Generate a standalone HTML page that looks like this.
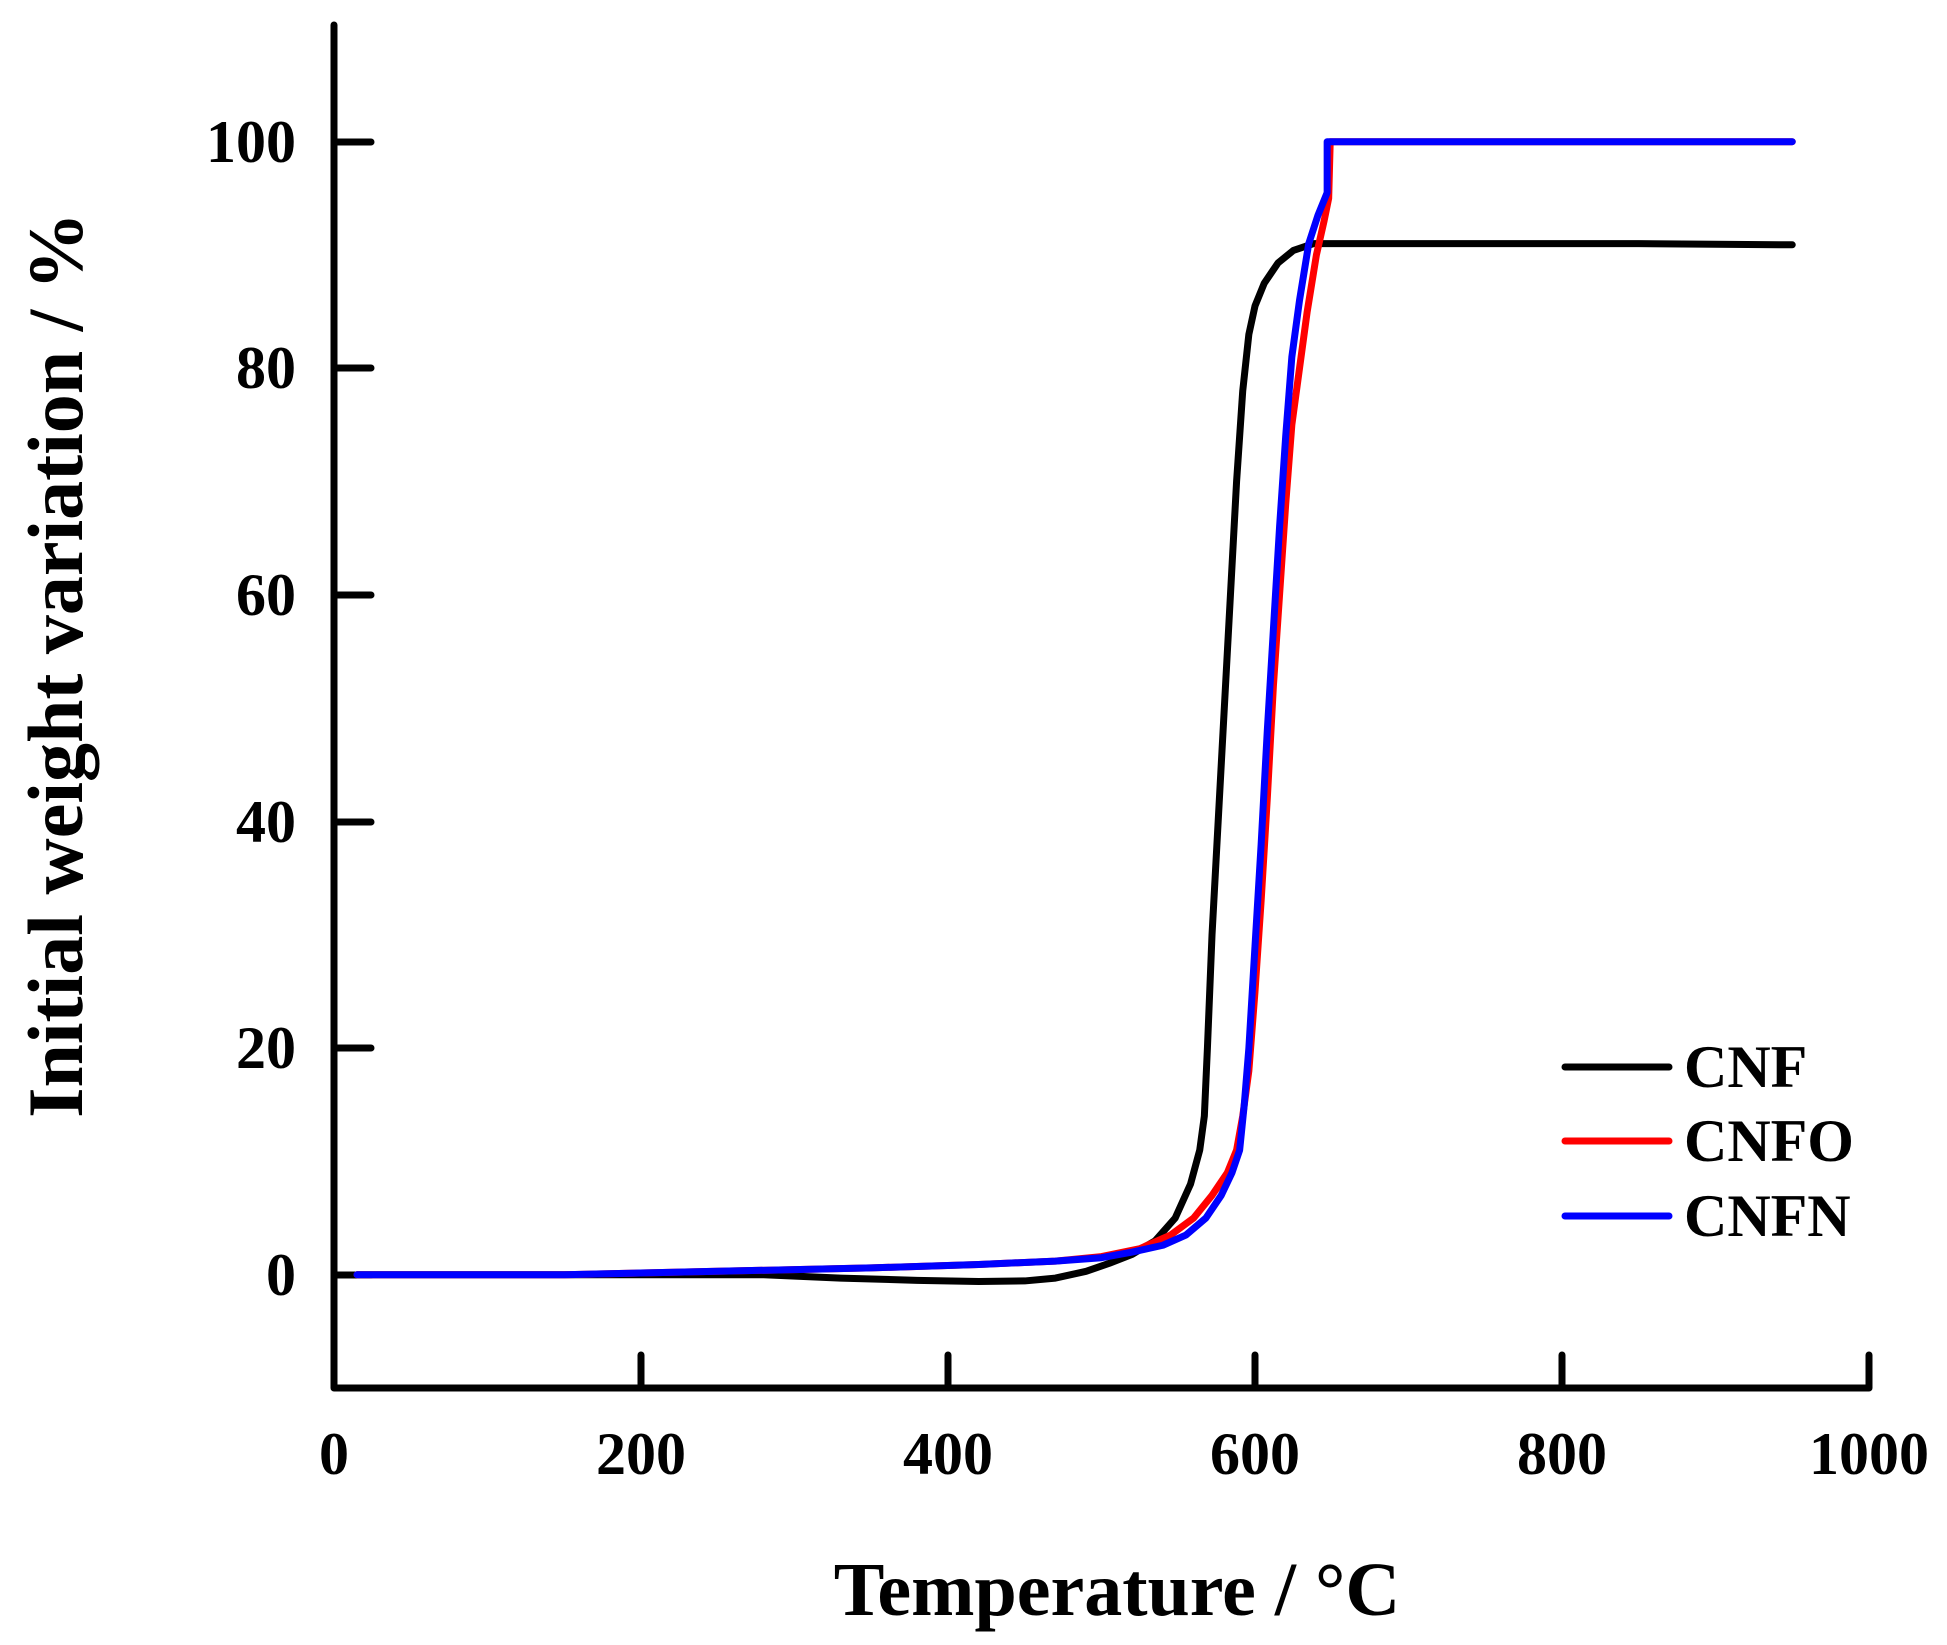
<!DOCTYPE html>
<html><head><meta charset="utf-8"><style>
html,body{margin:0;padding:0;background:#fff;}
svg{display:block;}
text{font-family:"Liberation Serif",serif;font-weight:bold;fill:#000;}
</style></head><body>
<svg width="1947" height="1645" viewBox="0 0 1947 1645" xmlns="http://www.w3.org/2000/svg">
<polyline points="334,25 334,1388 1869,1388 1869,1355" fill="none" stroke="#000" stroke-width="7" stroke-linecap="round" stroke-linejoin="round"/>
<g stroke="#000" stroke-width="7" stroke-linecap="round">
<line x1="641" y1="1388" x2="641" y2="1355"/>
<line x1="948" y1="1388" x2="948" y2="1355"/>
<line x1="1255" y1="1388" x2="1255" y2="1355"/>
<line x1="1562" y1="1388" x2="1562" y2="1355"/>
<line x1="334" y1="1275" x2="371" y2="1275"/>
<line x1="334" y1="1048" x2="371" y2="1048"/>
<line x1="334" y1="822" x2="371" y2="822"/>
<line x1="334" y1="595" x2="371" y2="595"/>
<line x1="334" y1="368" x2="371" y2="368"/>
<line x1="334" y1="142" x2="371" y2="142"/>
</g>
<g font-size="60" text-anchor="middle">
<text x="334" y="1474">0</text>
<text x="641" y="1474">200</text>
<text x="948" y="1474">400</text>
<text x="1255" y="1474">600</text>
<text x="1562" y="1474">800</text>
<text x="1869" y="1474">1000</text>
</g>
<g font-size="60" text-anchor="end">
<text x="296" y="1295">0</text>
<text x="296" y="1068">20</text>
<text x="296" y="842">40</text>
<text x="296" y="615">60</text>
<text x="296" y="388">80</text>
<text x="296" y="162">100</text>
</g>
<text x="1117" y="1615" font-size="76" text-anchor="middle">Temperature / °C</text>
<text transform="translate(82,665) rotate(-90)" font-size="78" text-anchor="middle">Initial weight variation / %</text>
<g transform="translate(334,1274.7) scale(1.535,-11.33)" fill="none" stroke-linejoin="round" stroke-linecap="round">
<polyline vector-effect="non-scaling-stroke" stroke="#000" stroke-width="7" points="15,0 150,0 280,0 330,-0.3 380,-0.5 420,-0.6 450,-0.55 470,-0.3 490,0.3 505,1 520,1.8 535,3 548,5 558,8 564,11 567,14 569,20 572,30 576,40 580,50 584,60 588,70 592,78 596,83 600,85.5 606,87.5 615,89.3 625,90.4 638,91 660,91 850,91 950,90.9"/>
<polyline vector-effect="non-scaling-stroke" stroke="#f00" stroke-width="7" points="15,0 150,0 250,0.3 350,0.6 420,0.9 470,1.2 500,1.6 525,2.3 545,3.5 560,5 572,7 582,9 588,11 592,14 596,18 600,25 604,33 608,42 612,52 616,60 620,68 624,75 629,80 634,85 640,90 645,93 648,95 649,100 700,100 950,100"/>
<polyline vector-effect="non-scaling-stroke" stroke="#00f" stroke-width="7" points="15,0 150,0 250,0.3 350,0.6 420,0.9 470,1.2 500,1.5 520,2 540,2.6 555,3.5 568,5 578,7 585,9 590,11 593,15 596,20 600,29 604,38 608,48 612,57 616,66 620,74 624,81 629,86 635,91 641,93.5 647,95.5 647,100 700,100 950,100"/>
</g>
<g stroke-width="7" stroke-linecap="round">
<line x1="1574" y1="1067" x2="1678" y2="1067" stroke="#000" transform="translate(-9,0)"/>
<line x1="1574" y1="1141" x2="1678" y2="1141" stroke="#f00" transform="translate(-9,0)"/>
<line x1="1574" y1="1216" x2="1678" y2="1216" stroke="#00f" transform="translate(-9,0)"/>
</g>
<g font-size="60">
<text x="1684" y="1087">CNF</text>
<text x="1684" y="1161">CNFO</text>
<text x="1684" y="1236">CNFN</text>
</g>
</svg>
</body></html>
